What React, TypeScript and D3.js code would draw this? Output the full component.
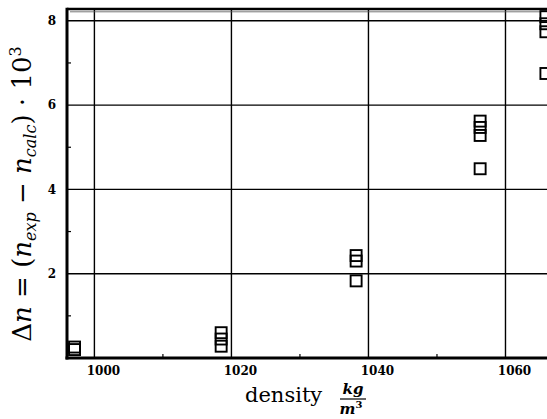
import * as d3 from 'd3';

const densities = [997.1, 1018.5, 1038.2, 1056.3, 1065.9];
const deltaN = [
  [0.2, 0.26],
  [0.6, 0.45, 0.28],
  [2.43, 2.3, 1.83],
  [5.62, 5.47, 5.28, 4.49],
  [8.1, 7.93, 7.74, 6.75],
];
const xTicks = [1000, 1020, 1040, 1060];
const xMinor = [1010, 1030, 1050, 1070];
const yTicks = [2, 4, 6, 8];
const yMinor = [1, 3, 5, 7];

const W = 547;
const H = 419;

const App = () => {
  const x = d3.scaleLinear().domain([996, 1070]).range([67, 574]);
  const y = d3.scaleLinear().domain([0, 8.28]).range([358, 9]);

  const points = densities.flatMap((d, i) => deltaN[i].map(v => ({ d, v })));
  const sq = 11;
  const tickFont = '"DejaVu Serif", serif';
  const mathFont = '"DejaVu Serif", serif';

  return (
    <svg width={W} height={H} style={{ position: 'absolute', left: 0, top: 0, background: '#fff' }}>
      <rect x={0} y={0} width={W} height={H} fill="#fff" />
      {/* grid */}
      {xTicks.map(t => (
        <line key={'gx' + t} x1={x(t)} x2={x(t)} y1={y.range()[1]} y2={y.range()[0]} stroke="#000" strokeWidth={1.4} />
      ))}
      {yTicks.map(t => (
        <line key={'gy' + t} x1={x.range()[0]} x2={x.range()[1]} y1={y(t)} y2={y(t)} stroke="#000" strokeWidth={1.4} />
      ))}
      {/* minor ticks */}
      {xMinor.map(t => (
        <line key={'mx' + t} x1={x(t)} x2={x(t)} y1={y(0)} y2={y(0) - 4} stroke="#000" strokeWidth={1.2} />
      ))}
      {yMinor.map(t => (
        <line key={'my' + t} x1={x.range()[0]} x2={x.range()[0] + 4} y1={y(t)} y2={y(t)} stroke="#000" strokeWidth={1.2} />
      ))}
      {/* frame */}
      <line x1={x.range()[0]} x2={x.range()[1]} y1={y.range()[1]} y2={y.range()[1]} stroke="#000" strokeWidth={2.6} />
      <line x1={x.range()[0] + 3} x2={x.range()[1]} y1={y.range()[1] + 2.8} y2={y.range()[1] + 2.8} stroke="#555" strokeWidth={0.8} />
      <line x1={x.range()[0]} x2={x.range()[0]} y1={y.range()[1] - 1.3} y2={y.range()[0] + 1.5} stroke="#000" strokeWidth={3} />
      <line x1={x.range()[0] - 1.5} x2={x.range()[1]} y1={y.range()[0]} y2={y.range()[0]} stroke="#000" strokeWidth={3} />
      {/* points */}
      {points.map((p, i) => (
        <rect key={'p' + i} x={x(p.d) - sq / 2} y={y(p.v) - sq / 2} width={sq} height={sq} fill="none" stroke="#000" strokeWidth={1.9} />
      ))}
      {/* tick labels */}
      {xTicks.map(t => (
        <text key={'tx' + t} x={x(t) + 9} y={375} textAnchor="middle" fontFamily={tickFont} fontWeight="bold" fontSize={12}>
          {t}
        </text>
      ))}
      {yTicks.map(t => (
        <text key={'ty' + t} x={56} y={y(t)} dy="0.35em" textAnchor="end" fontFamily={tickFont} fontWeight="bold" fontSize={12}>
          {t}
        </text>
      ))}
      {/* x label */}
      <text x={245} y={402} fontFamily={mathFont} fontSize={21}>density</text>
      <text x={353} y={394} textAnchor="middle" fontFamily={mathFont} fontStyle="italic" fontWeight="bold" fontSize={15}>kg</text>
      <line x1={340} x2={366} y1={399} y2={399} stroke="#000" strokeWidth={1.2} />
      <text x={351} y={414} textAnchor="middle" fontFamily={mathFont} fontStyle="italic" fontWeight="bold" fontSize={15}>
        m<tspan dy={-6} fontSize={10} fontStyle="normal">3</tspan>
      </text>
      {/* y label */}
      <text transform="translate(31,194) rotate(-90)" textAnchor="middle" fontFamily={mathFont} fontSize={26}>
        Δ<tspan fontStyle="italic">n</tspan> = (<tspan fontStyle="italic">n</tspan>
        <tspan dy={5} fontSize={16} fontStyle="italic">exp</tspan>
        <tspan dy={-5}> − </tspan><tspan fontStyle="italic">n</tspan>
        <tspan dy={5} fontSize={16} fontStyle="italic">calc</tspan>
        <tspan dy={-5}>) · 10</tspan>
        <tspan dy={-10} fontSize={16}>3</tspan>
      </text>
    </svg>
  );
};

export default App;
